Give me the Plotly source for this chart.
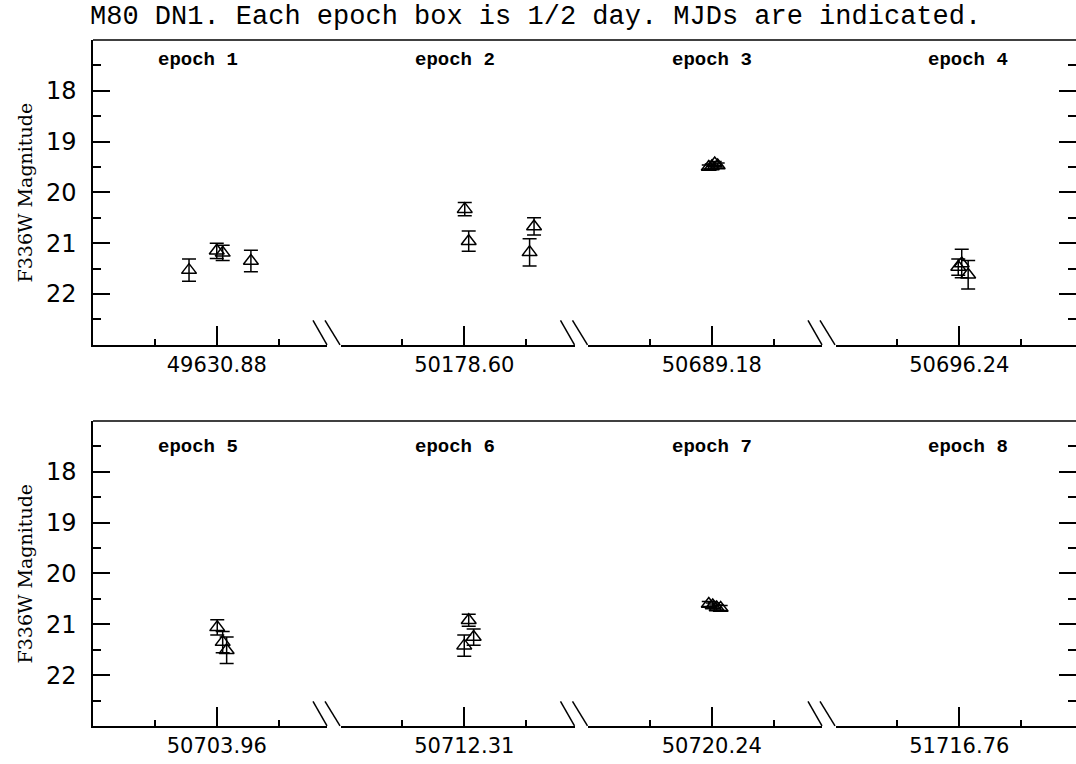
import plotly.graph_objects as go

# ---------------- data ----------------
epoch_names = ["epoch 1", "epoch 2", "epoch 3", "epoch 4",
               "epoch 5", "epoch 6", "epoch 7", "epoch 8"]
epoch_centers = [49630.88, 50178.60, 50689.18, 50696.24,
                 50703.96, 50712.31, 50720.24, 51716.76]
epoch_labels = ["49630.88", "50178.60", "50689.18", "50696.24",
                "50703.96", "50712.31", "50720.24", "51716.76"]

mjd_e1 = [49630.824, 49630.880, 49630.892, 49630.949]
mag_e1 = [21.53, 21.15, 21.19, 21.35]
err_e1 = [0.22, 0.15, 0.15, 0.21]

mjd_e2 = [50178.601, 50178.609, 50178.741, 50178.732]
mag_e2 = [20.33, 20.96, 20.67, 21.18]
err_e2 = [0.13, 0.20, 0.17, 0.27]

mjd_e3 = [50689.174, 50689.180, 50689.186, 50689.192]
mag_e3 = [19.50, 19.49, 19.43, 19.47]
err_e3 = [0.04, 0.05, 0.04, 0.05]

mjd_e4 = [50696.245, 50696.258, 50696.238]
mag_e4 = [21.40, 21.62, 21.47]
err_e4 = [0.28, 0.28, 0.16]

mjd_e5 = [50703.961, 50703.972, 50703.980]
mag_e5 = [21.06, 21.35, 21.51]
err_e5 = [0.15, 0.21, 0.26]

mjd_e6 = [50712.319, 50712.329, 50712.310]
mag_e6 = [20.92, 21.25, 21.42]
err_e6 = [0.12, 0.16, 0.21]

mjd_e7 = [50720.234, 50720.242, 50720.250, 50720.258]
mag_e7 = [20.60, 20.63, 20.67, 20.68]
err_e7 = [0.05, 0.05, 0.05, 0.05]

mjd_e8 = []
mag_e8 = []
err_e8 = []

mag_major = [18, 19, 20, 21, 22]
mag_minor = [17.5, 18.5, 19.5, 20.5, 21.5, 22.5]
mag_range = [23, 17]
box_days = 0.5

all_mjd = [mjd_e1, mjd_e2, mjd_e3, mjd_e4, mjd_e5, mjd_e6, mjd_e7, mjd_e8]
all_mag = [mag_e1, mag_e2, mag_e3, mag_e4, mag_e5, mag_e6, mag_e7, mag_e8]
all_err = [err_e1, err_e2, err_e3, err_e4, err_e5, err_e6, err_e7, err_e8]

# ---------------- geometry (pixels) ----------------
W, H = 1076, 764
ML, MR, MT, MB = 93, 0, 40, 38
PW = W - ML - MR
PH = H - MT - MB
BOX_PX = 247.5          # width of a half-day box
GAP_PX = 13.5           # gap for the break marks
PX_PER_DAY = BOX_PX / box_days

def py(ypix):  # absolute pixel y -> paper fraction
    return (H - MB - ypix) / PH

def px(xpix):  # absolute pixel x -> paper fraction
    return (xpix - ML) / PW

panel_dom = [[py(344.8), 1.0], [0.0, py(420.9)]]

BLACK = "black"
LW = 1.5
fig = go.Figure()

layout = dict(
    width=W, height=H, margin=dict(l=ML, r=MR, t=MT, b=MB),
    paper_bgcolor="white", plot_bgcolor="white", showlegend=False,
)

tickfont_x = dict(family="DejaVu Sans", size=21, color=BLACK)
tickfont_y = dict(family="DejaVu Sans", size=24, color=BLACK)

# y axes: y (top left), y2 (bottom left), y3 (top right), y4 (bottom right)
def yaxis_def(panel, left):
    d = dict(
        domain=panel_dom[panel], range=mag_range, autorange=False,
        tickmode="array", tickvals=mag_major,
        ticktext=[str(v) for v in mag_major] if left else ["" for _ in mag_major],
        ticks="inside", ticklen=17, tickwidth=LW, tickcolor=BLACK,
        minor=dict(tickmode="array", tickvals=mag_minor, ticks="inside",
                   ticklen=8.5, tickwidth=LW, tickcolor=BLACK, showgrid=False),
        showline=True, linewidth=LW, linecolor=BLACK,
        showgrid=False, zeroline=False, tickfont=tickfont_y,
        showticklabels=left, ticklabelstandoff=10,
        fixedrange=True,
    )
    if left:
        d["anchor"] = "x" if panel == 0 else "x5"
        d["side"] = "left"
    else:
        d["anchor"] = "x4" if panel == 0 else "x8"
        d["side"] = "right"
    return d

layout["yaxis"] = yaxis_def(0, True)
layout["yaxis2"] = yaxis_def(1, True)
layout["yaxis3"] = yaxis_def(0, False)
layout["yaxis4"] = yaxis_def(1, False)

shapes = []
annotations = []

for i in range(8):
    panel = i // 4
    k = i % 4
    c = epoch_centers[i]
    x0 = k * BOX_PX
    if k < 3:
        x1 = x0 + BOX_PX - GAP_PX
    else:
        x1 = PW
    dom = [x0 / PW, x1 / PW]
    rng = [c - box_days / 2, c - box_days / 2 + (x1 - x0) / PX_PER_DAY]
    if k < 3:
        yref = "y" if panel == 0 else "y2"
    else:
        yref = "y3" if panel == 0 else "y4"
    ax = dict(
        domain=dom, range=rng, autorange=False, anchor=yref,
        tickmode="array", tickvals=[c], ticktext=[epoch_labels[i]],
        ticks="inside", ticklen=19, tickwidth=LW, tickcolor=BLACK,
        minor=dict(tickmode="array", tickvals=[c - box_days / 4, c + box_days / 4],
                   ticks="inside", ticklen=6.5, tickwidth=LW, tickcolor=BLACK,
                   showgrid=False),
        showline=True, linewidth=LW, linecolor=BLACK,
        showgrid=False, zeroline=False, tickfont=tickfont_x,
        ticklabelstandoff=0, fixedrange=True,
    )
    name = "xaxis" if i == 0 else f"xaxis{i + 1}"
    layout[name] = ax

    fig.add_trace(go.Scatter(
        x=all_mjd[i], y=all_mag[i],
        mode="markers",
        marker=dict(symbol="triangle-up-open", size=13, color=BLACK,
                    line=dict(width=LW, color=BLACK)),
        error_y=dict(type="data", array=all_err[i], visible=True,
                     color=BLACK, thickness=LW, width=7),
        xaxis="x" if i == 0 else f"x{i + 1}",
        yaxis=yref,
        hoverinfo="skip",
    ))

    # epoch label
    lab_px = [198, 454.5, 712, 968][k]
    lab_py = [60, 447][panel]
    annotations.append(dict(
        text=epoch_names[i], xref="paper", yref="paper",
        x=px(lab_px), y=py(lab_py), xanchor="center", yanchor="middle",
        showarrow=False,
        font=dict(family="Liberation Mono", size=19, color=BLACK, weight="bold"),
    ))

    # break marks between boxes
    if k < 3:
        ybase = [344.8, 725.8][panel]
        e_abs = ML + x1
        for off in (0, 13):
            shapes.append(dict(
                type="line", xref="paper", yref="paper",
                x0=px(e_abs - 14 + off - (1 if off else 0)), y0=py(ybase - 24.5),
                x1=px(e_abs + off), y1=py(ybase),
                line=dict(color=BLACK, width=LW),
            ))

# top borders of the two panels
for panel in range(2):
    ytop = panel_dom[panel][1]
    shapes.append(dict(
        type="line", xref="paper", yref="paper",
        x0=0, x1=1, y0=ytop, y1=ytop,
        line=dict(color=BLACK, width=LW),
    ))

# y axis titles
for panel in range(2):
    annotations.append(dict(
        text="F336W Magnitude", xref="paper", yref="paper",
        x=px(25), y=sum(panel_dom[panel]) / 2, textangle=-90,
        xanchor="center", yanchor="middle", showarrow=False,
        font=dict(family="DejaVu Serif", size=19, color=BLACK),
    ))

# title
annotations.append(dict(
    text="M80 DN1. Each epoch box is 1/2 day. MJDs are indicated.",
    xref="paper", yref="paper", x=px(88), y=py(17),
    xanchor="left", yanchor="middle", showarrow=False,
    font=dict(family="Liberation Mono", size=27, color=BLACK),
))

layout["shapes"] = shapes
layout["annotations"] = annotations
fig.update_layout(**layout)

fig.write_html("out.html")
